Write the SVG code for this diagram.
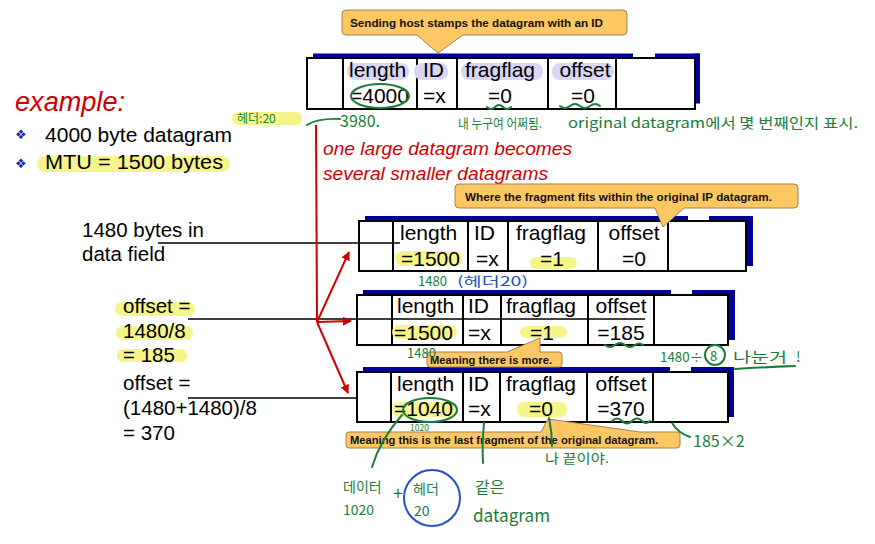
<svg xmlns="http://www.w3.org/2000/svg" width="875" height="544" viewBox="0 0 875 544">
<defs>
<marker id="ra" viewBox="0 0 10 10" refX="9" refY="5" markerWidth="9" markerHeight="9" markerUnits="userSpaceOnUse" orient="auto"><path d="M0,0 L10,5 L0,10 z" fill="#d00000"/></marker>
<style>
.bx{fill:#fff;stroke:#000;stroke-width:2}
.cl{stroke:#000;stroke-width:2}
.sh{fill:#00009c}
.wt{fill:#fff}
.t{font-family:"Liberation Sans",Arial,sans-serif;font-size:21px;fill:#000}
.m{text-anchor:middle}
.lt{font-family:"Liberation Sans",Arial,sans-serif;font-size:20.5px;fill:#000}
.hl{fill:#f5f58c}
.lav{fill:#d9d5f5}
.co{fill:#fdc864;stroke:#a08448;stroke-width:1}
.ct{font-family:"Liberation Sans",Arial,sans-serif;font-size:11.7px;font-weight:bold;fill:#111}
.red{font-family:"Liberation Sans",Arial,sans-serif;font-style:italic;fill:#d00000}
.g{font-family:"Noto Sans CJK KR","Liberation Sans",sans-serif;fill:#1b7d3c}
.bl{font-family:"Noto Sans CJK KR","Liberation Sans",sans-serif;fill:#2a4fc0}
.gs{fill:none;stroke:#1b7d3c;stroke-width:2;stroke-linecap:round}
.rl{stroke:#d00000;stroke-width:2;fill:none}
.pl{stroke:#000;stroke-width:1.3}
.bul{font-family:"DejaVu Sans",sans-serif;font-size:13px;fill:#2020a0}
</style>
</defs>

<g id="heading">
<text class="red" x="15" y="111" font-size="27" textLength="110" lengthAdjust="spacingAndGlyphs">example:</text>
<text class="bul" x="15" y="139">❖</text>
<text class="lt" x="45" y="142" font-size="22" textLength="187" lengthAdjust="spacingAndGlyphs">4000 byte datagram</text>
<text class="bul" x="15" y="168">❖</text>
<rect class="hl" x="37" y="156" width="193" height="16" rx="8"/>
<text class="lt" x="45" y="169" font-size="22" textLength="178" lengthAdjust="spacingAndGlyphs">MTU = 1500 bytes</text>
</g>

<g id="caption">
<text class="red" x="323" y="155" font-size="19" textLength="249" lengthAdjust="spacingAndGlyphs">one large datagram becomes</text>
<text class="red" x="323" y="180" font-size="19" textLength="225" lengthAdjust="spacingAndGlyphs">several smaller datagrams</text>
</g>

<g id="left-notes">
<text class="lt" x="82" y="237">1480 bytes in</text>
<text class="lt" x="82" y="261">data field</text>
<rect class="hl" x="115" y="302" width="80" height="14" rx="7"/>
<rect class="hl" x="116" y="326" width="77" height="14" rx="7"/>
<rect class="hl" x="117" y="349" width="70" height="13" rx="6"/>
<text class="lt" x="123" y="313">offset =</text>
<text class="lt" x="123" y="338">1480/8</text>
<text class="lt" x="123" y="362">= 185</text>
<text class="lt" x="123" y="390">offset =</text>
<text class="lt" x="123" y="415">(1480+1480)/8</text>
<text class="lt" x="123" y="440">= 370</text>
</g>

<g id="original">
<rect class="sh" x="313" y="53.5" width="387" height="5"/>
<rect class="sh" x="695" y="53.5" width="5" height="50"/>
<rect class="wt" x="633" y="50" width="22" height="7"/>
<rect class="bx" x="307" y="58" width="388" height="51"/>
<line class="cl" x1="343" y1="58" x2="343" y2="109"/>
<line class="cl" x1="417" y1="58" x2="417" y2="109"/>
<line class="cl" x1="457" y1="58" x2="457" y2="109"/>
<line class="cl" x1="548" y1="58" x2="548" y2="109"/>
<line class="cl" x1="616" y1="58" x2="616" y2="109"/>
<rect class="lav" x="347" y="63" width="62" height="17" rx="8"/>
<rect class="lav" x="414" y="63" width="34" height="17" rx="8"/>
<rect class="lav" x="461" y="63" width="82" height="17" rx="8"/>
<rect class="lav" x="552" y="63" width="62" height="17" rx="8"/>
<text class="t" x="349" y="77">length</text>
<text class="t" x="350" y="103">=4000</text>
<text class="t" x="423" y="77">ID</text>
<text class="t" x="423" y="103">=x</text>
<text class="t m" x="500" y="77">fragflag</text>
<text class="t m" x="500" y="103">=0</text>
<text class="t m" x="585" y="77">offset</text>
<text class="t m" x="583" y="103">=0</text>
</g>

<g id="fragment1">
<rect class="sh" x="365" y="216" width="388" height="5"/>
<rect class="sh" x="746" y="216" width="7" height="50"/>
<rect class="wt" x="688" y="212" width="21" height="8"/>
<rect class="bx" x="359" y="221" width="387" height="50"/>
<line class="cl" x1="393" y1="221" x2="393" y2="271"/>
<line class="cl" x1="468" y1="221" x2="468" y2="271"/>
<line class="cl" x1="508" y1="221" x2="508" y2="271"/>
<line class="cl" x1="598" y1="221" x2="598" y2="271"/>
<line class="cl" x1="668" y1="221" x2="668" y2="271"/>
<rect class="hl" x="395" y="251" width="67" height="15" rx="7"/>
<rect class="hl" x="530" y="257" width="47" height="12" rx="6"/>
<text class="t" x="400" y="240">length</text>
<text class="t" x="401" y="266">=1500</text>
<text class="t" x="474" y="240">ID</text>
<text class="t" x="476" y="266">=x</text>
<text class="t m" x="551" y="240">fragflag</text>
<text class="t m" x="552" y="266">=1</text>
<text class="t m" x="634" y="240">offset</text>
<text class="t m" x="634" y="266">=0</text>
</g>

<g id="fragment2">
<rect class="sh" x="363" y="290" width="372" height="5"/>
<rect class="sh" x="728" y="290" width="7" height="50"/>
<rect class="wt" x="671" y="286" width="21" height="8"/>
<rect class="bx" x="357" y="295" width="371" height="50"/>
<line class="cl" x1="392" y1="295" x2="392" y2="345"/>
<line class="cl" x1="463" y1="295" x2="463" y2="345"/>
<line class="cl" x1="501" y1="295" x2="501" y2="345"/>
<line class="cl" x1="588" y1="295" x2="588" y2="345"/>
<line class="cl" x1="654" y1="295" x2="654" y2="345"/>
<rect class="hl" x="392" y="325" width="65" height="14" rx="7"/>
<rect class="hl" x="520" y="326" width="47" height="12" rx="6"/>
<text class="t" x="397" y="313">length</text>
<text class="t" x="394" y="340">=1500</text>
<text class="t" x="468" y="313">ID</text>
<text class="t" x="468" y="340">=x</text>
<text class="t m" x="541" y="313">fragflag</text>
<text class="t m" x="542" y="340">=1</text>
<text class="t m" x="621" y="313">offset</text>
<text class="t m" x="621" y="340">=185</text>
</g>

<g id="fragment3">
<rect class="sh" x="363" y="367" width="371" height="5"/>
<rect class="sh" x="728" y="367" width="6" height="50"/>
<rect class="wt" x="670" y="363" width="21" height="8"/>
<rect class="bx" x="357" y="372" width="371" height="50"/>
<line class="cl" x1="391" y1="372" x2="391" y2="422"/>
<line class="cl" x1="463" y1="372" x2="463" y2="422"/>
<line class="cl" x1="500" y1="372" x2="500" y2="422"/>
<line class="cl" x1="587" y1="372" x2="587" y2="422"/>
<line class="cl" x1="653" y1="372" x2="653" y2="422"/>
<rect class="hl" x="392" y="402" width="66" height="15" rx="7"/>
<rect class="hl" x="517" y="402" width="50" height="15" rx="7"/>
<text class="t" x="397" y="391">length</text>
<text class="t" x="394" y="416">=1040</text>
<text class="t" x="468" y="391">ID</text>
<text class="t" x="468" y="416">=x</text>
<text class="t m" x="541" y="391">fragflag</text>
<text class="t m" x="541" y="416">=0</text>
<text class="t m" x="621" y="391">offset</text>
<text class="t m" x="621" y="416">=370</text>
</g>

<g id="connectors">
<line class="pl" x1="158" y1="243" x2="400" y2="243"/>
<line class="pl" x1="188" y1="319" x2="645" y2="319"/>
<line class="pl" x1="188" y1="398" x2="357" y2="398"/>
<line class="rl" x1="316" y1="125" x2="317" y2="322"/>
<line class="rl" x1="317" y1="322" x2="349" y2="252" marker-end="url(#ra)"/>
<line class="rl" x1="317" y1="322" x2="351" y2="321" marker-end="url(#ra)"/>
<line class="rl" x1="317" y1="322" x2="348" y2="393" marker-end="url(#ra)"/>
</g>

<g id="callout-id">
<path class="co" d="M346,10 H623 Q627,10 627,14 V31 Q627,35 623,35 H463 L438,53 L417,35 H346 Q342,35 342,31 V14 Q342,10 346,10 Z"/>
<text class="ct" x="350" y="27" textLength="253" lengthAdjust="spacingAndGlyphs">Sending host stamps the datagram with an ID</text>
</g>

<g id="callout-offset">
<path class="co" d="M459,184 H794 Q798,184 798,188 V204 Q798,208 794,208 H684 L663,227 L655,208 H459 Q455,208 455,204 V188 Q455,184 459,184 Z"/>
<text class="ct" x="465" y="201" textLength="307" lengthAdjust="spacingAndGlyphs">Where the fragment fits within the original IP datagram.</text>
</g>

<g id="callout-more">
<path class="co" d="M430,352 H507 L540,338 L540,352 H559 Q562,352 562,355 V364 Q562,367 559,367 H430 Q427,367 427,364 V355 Q427,352 430,352 Z"/>
<text class="ct" x="430" y="364" textLength="122" lengthAdjust="spacingAndGlyphs">Meaning there is more.</text>
</g>

<g id="callout-last">
<path class="co" d="M349,432 H541 L548,419 L640,432 H677 Q680,432 680,435 V445 Q680,448 677,448 H349 Q346,448 346,445 V435 Q346,432 349,432 Z"/>
<text class="ct" x="350" y="444" textLength="308" lengthAdjust="spacingAndGlyphs">Meaning this is the last fragment of the original datagram.</text>
</g>

<g id="handwritten-notes">
<rect class="hl" x="232" y="112" width="70" height="13" rx="6"/>
<text class="g" x="237" y="123" font-size="12">헤더:20</text>
<path class="gs" d="M307,125 Q318,118 340,119"/>
<text class="g" x="340" y="127" font-size="16">3980.</text>
<ellipse class="gs" cx="380" cy="96" rx="29" ry="12"/>
<path class="gs" d="M487,107 q4,4 8,0 q4,-4 8,0 q4,4 8,0"/>
<path class="gs" d="M560,106 q5,4 10,0 q5,-4 10,0 q5,4 10,0 q5,-4 10,0"/>
<text class="g" x="458" y="128" font-size="13" textLength="84" lengthAdjust="spacingAndGlyphs">내 누구여 어쩌됨.</text>
<text class="g" x="568" y="128" font-size="14" textLength="290" lengthAdjust="spacingAndGlyphs">original datagram에서 몇 번째인지 표시.</text>
<text class="g" x="418" y="286" font-size="13">1480</text>
<text class="bl" x="457" y="286" font-size="13" textLength="71" lengthAdjust="spacingAndGlyphs">(헤더20)</text>
<text class="g" x="407" y="358" font-size="13">1480</text>
<path class="gs" d="M605,345 q5,4 10,0 q5,-4 10,0 q5,4 10,0 q4,-3 8,0"/>
<text class="g" x="660" y="362" font-size="13" textLength="43" lengthAdjust="spacingAndGlyphs">1480÷</text>
<circle class="gs" cx="715" cy="355" r="10"/>
<text class="g" x="710" y="361" font-size="13">8</text>
<text class="g" x="733" y="362" font-size="14" textLength="54" lengthAdjust="spacingAndGlyphs">나눈거</text>
<text class="g" x="796" y="362" font-size="14">!</text>
<path class="gs" d="M735,369 Q765,367 795,366"/>
<ellipse class="gs" cx="430" cy="410" rx="27" ry="12"/>
<text class="g" x="410" y="431" font-size="8.5">1020</text>
<path class="gs" d="M612,421 q5,-5 10,0 q5,5 10,0 q5,-5 10,0 q4,4 8,0"/>
<path class="gs" d="M672,423 Q678,433 690,437"/>
<text class="g" x="693" y="447" font-size="16">185×2</text>
<path class="gs" d="M402,415 Q380,440 372,467"/>
<path class="gs" d="M484,423 Q482,445 483,463"/>
<path class="gs" d="M549,418 Q552,432 552,446"/>
<text class="g" x="545" y="463" font-size="13" textLength="64" lengthAdjust="spacingAndGlyphs">나 끝이야.</text>
<text class="g" x="343" y="492" font-size="14">데이터</text>
<text class="g" x="343" y="515" font-size="14">1020</text>
<text class="g" x="393" y="500" font-size="18">+</text>
<circle cx="432" cy="498" r="28" fill="none" stroke="#2a4fc0" stroke-width="2"/>
<text class="g" x="413" y="494" font-size="14">헤더</text>
<text class="g" x="414" y="516" font-size="14">20</text>
<text class="g" x="475" y="493" font-size="16">같은</text>
<text class="g" x="473" y="522" font-size="18" textLength="77" lengthAdjust="spacingAndGlyphs">datagram</text>
</g>
</svg>
